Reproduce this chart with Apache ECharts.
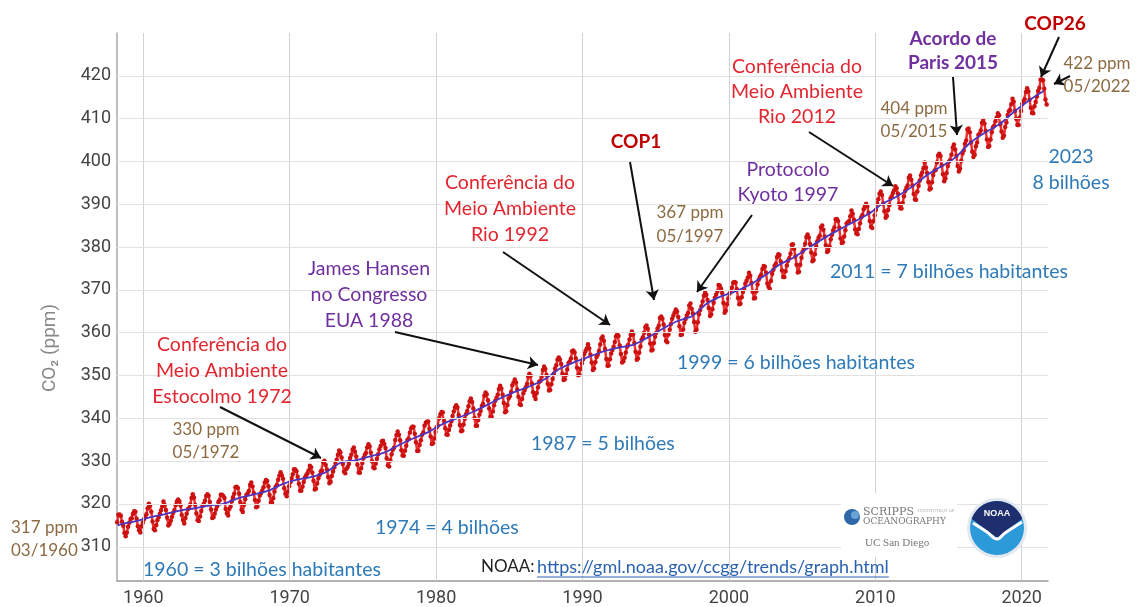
<!DOCTYPE html>
<html><head><meta charset="utf-8">
<script src="https://cdn.jsdelivr.net/npm/echarts@6/dist/echarts.min.js"></script>
<style>html,body{margin:0;padding:0;background:#fff}#c{width:1140px;height:607px}</style>
</head><body><div id="c"></div><script>
// ---------- DATA ----------
// Monthly CO2 at Mauna Loa (ppm), read/estimated from the chart
const co2_1958_59 = [ // starts March 1958
315.70,317.45,317.51,317.24,315.86,314.93,313.20,312.43,313.33,314.67,
315.58,316.49,316.65,317.72,318.29,318.15,316.54,314.80,313.84,313.33,314.81,315.58];
const co2_1960s = [
316.43,316.97,317.58,319.02,320.03,319.59,318.18,315.91,314.16,313.83,315.00,316.19,
316.89,317.70,318.54,319.48,320.58,319.77,318.57,316.79,314.99,315.31,316.10,317.01,
317.94,318.56,319.68,320.57,321.02,320.62,319.61,317.40,316.25,315.42,316.69,317.70,
318.74,319.07,319.86,321.38,322.25,321.48,319.74,317.77,316.21,315.99,317.07,318.35,
319.57,320.01,320.74,321.84,322.26,321.89,320.44,318.69,316.70,316.87,317.68,318.71,
319.44,320.44,320.89,322.13,322.16,321.87,321.39,318.80,317.81,317.30,318.87,319.42,
320.62,321.59,322.39,323.87,324.01,323.75,322.39,320.37,318.64,318.10,319.79,321.08,
322.07,322.50,323.04,324.42,325.00,324.09,322.54,320.92,319.25,319.39,320.73,321.96,
322.57,323.15,323.89,325.02,325.57,325.36,324.14,322.11,320.33,320.25,321.32,322.89,
324.00,324.42,325.63,326.66,327.38,326.71,325.88,323.66,322.38,321.78,322.86,324.12];
const co2_1970s = [
325.06,325.98,326.93,328.13,328.07,327.66,326.35,324.69,323.10,323.07,324.01,325.13,
326.17,326.68,327.17,327.79,328.93,328.57,327.36,325.43,323.36,323.56,324.80,326.01,
326.77,327.63,327.75,329.72,330.07,329.09,328.04,326.32,324.84,325.20,326.50,327.55,
328.55,329.56,330.30,331.50,332.48,332.07,330.87,329.31,327.51,327.18,328.16,328.64,
329.35,330.71,331.48,332.65,333.19,332.20,331.07,329.15,327.33,327.28,328.31,329.58,
330.73,331.46,331.90,333.17,333.94,333.45,331.97,329.95,328.50,328.34,329.37,330.58,
331.59,332.75,333.52,334.64,334.77,334.00,333.06,330.68,328.95,328.75,330.15,331.62,
332.66,333.13,334.95,336.13,336.93,336.17,334.88,332.56,331.29,331.27,332.41,333.60,
334.95,335.25,336.66,337.69,338.03,338.01,336.41,334.41,332.37,332.41,333.75,334.90,
336.14,336.69,338.27,338.95,339.21,339.26,337.54,335.75,333.98,334.19,335.31,336.81];
const co2_1980s = [
337.90,338.34,340.01,340.93,341.48,341.33,339.40,337.70,336.19,336.15,337.27,338.32,
339.29,340.55,341.61,342.53,343.03,342.54,340.78,338.44,336.95,337.08,338.58,339.88,
340.96,341.73,342.81,343.97,344.63,343.79,342.32,340.09,338.28,338.29,339.60,340.90,
341.68,342.90,343.33,345.25,346.03,345.63,344.19,342.27,340.35,340.38,341.59,343.05,
344.10,344.79,345.52,346.84,347.63,346.98,345.53,343.55,341.40,341.67,343.10,344.70,
345.21,346.16,347.74,348.34,349.06,348.38,346.72,345.02,343.27,343.13,344.49,345.88,
346.56,347.28,348.01,349.77,350.38,349.93,348.16,346.08,345.22,344.51,345.93,347.22,
348.52,348.73,349.73,351.31,352.09,351.53,350.11,348.08,346.52,346.59,347.96,349.16,
350.39,351.64,352.41,353.69,354.21,353.72,352.69,350.40,348.92,349.13,350.20,351.41,
352.91,353.27,353.96,355.64,355.86,355.37,353.99,351.81,350.05,350.25,351.49,352.85];
const co2_1990s = [
353.80,355.04,355.73,356.32,357.32,356.34,354.84,353.01,351.31,351.62,353.07,354.33,
354.84,355.73,357.23,358.66,359.13,358.13,356.19,353.85,352.25,352.35,353.81,355.12,
355.98,356.72,357.81,359.15,359.66,359.25,357.02,355.00,353.01,353.31,354.16,355.40,
356.70,357.17,358.38,359.46,360.28,359.60,357.57,355.52,353.69,353.99,355.34,356.80,
358.37,358.91,359.97,361.26,361.69,360.94,359.55,357.49,355.84,356.00,357.58,359.04,
359.97,361.00,361.64,363.45,363.79,363.26,361.90,359.46,358.06,357.75,359.56,360.70,
362.05,363.25,364.03,364.72,365.41,364.97,363.65,361.49,359.46,359.60,360.76,362.33,
363.18,364.00,364.57,366.35,366.79,365.62,364.47,362.51,360.19,360.77,362.43,364.28,
365.32,366.15,367.31,368.61,369.30,368.87,367.64,365.77,363.90,364.23,365.46,366.97,
368.15,368.87,369.59,371.14,371.00,370.35,369.27,366.94,364.63,365.12,366.67,368.01];
const co2_2000s = [
369.14,369.46,370.52,371.66,371.82,371.70,370.12,368.12,366.62,366.73,368.29,369.53,
370.28,371.50,372.12,372.87,374.02,373.30,371.62,369.55,367.96,368.09,369.68,371.24,
372.44,373.08,373.52,374.85,375.55,375.40,374.02,371.48,370.71,370.25,372.08,373.78,
374.68,375.62,376.11,377.65,378.35,378.13,376.62,374.50,372.99,373.01,374.35,375.70,
376.79,377.37,378.41,380.52,380.63,379.57,377.79,375.86,374.06,374.24,375.86,377.48,
378.98,379.69,380.79,382.33,382.95,382.21,380.74,378.74,376.70,377.00,378.35,380.11,
381.38,382.19,382.67,384.61,385.03,384.05,382.46,380.41,378.85,379.13,380.15,381.82,
382.89,383.90,384.58,386.50,386.56,386.10,384.50,381.99,380.96,381.12,382.45,383.95,
385.52,385.82,386.03,387.21,388.54,387.76,386.36,384.09,383.18,382.99,384.19,385.56,
386.94,387.48,388.82,389.55,390.14,389.48,388.03,386.11,384.74,384.43,386.02,387.42];
const co2_2010s = [
388.71,390.20,391.17,392.46,393.00,392.15,390.20,388.35,386.85,387.24,388.67,389.79,
391.33,391.86,392.60,393.25,394.19,393.74,392.51,390.13,389.08,389.00,390.28,391.86,
393.12,393.86,394.40,396.18,396.74,395.71,394.36,392.39,391.11,391.05,392.98,394.34,
395.55,396.80,397.43,398.41,399.78,398.60,397.32,395.20,393.45,393.70,395.16,396.84,
397.85,398.01,399.77,401.38,401.78,401.25,399.10,397.03,395.38,396.03,397.28,398.91,
399.98,400.28,401.54,403.28,403.96,402.80,401.31,398.93,397.63,398.29,400.16,401.85,
402.56,404.12,404.87,407.45,407.72,406.83,404.41,402.27,401.05,401.59,403.55,404.45,
406.17,406.46,407.22,409.04,409.69,408.88,407.12,405.13,403.37,403.63,405.12,406.81,
407.96,408.32,409.41,410.24,411.24,410.79,408.71,406.99,405.51,406.00,408.02,409.07,
410.83,411.75,411.97,413.33,414.66,413.92,411.77,409.95,408.54,408.53,410.27,411.76];
const co2_2020s = [
413.40,414.11,414.51,416.21,417.07,416.39,414.38,412.55,411.29,411.28,412.89,413.89,
415.15,416.47,417.16,419.07,419.13,418.94,416.96,414.47,413.30];
// start [year, month] of each monthly block
const blockStarts = [[1958,3],[1960,1],[1970,1],[1980,1],[1990,1],[2000,1],[2010,1],[2020,1]];
const blocks = [co2_1958_59,co2_1960s,co2_1970s,co2_1980s,co2_1990s,co2_2000s,co2_2010s,co2_2020s];

// deseasonalized trend (annual means, plotted mid-year)
const trendYears = [1958.25,1958.5,1959.5,1960.5,1961.5,1962.5,1963.5,1964.5,1965.5,1966.5,1967.5,1968.5,1969.5,
1970.5,1971.5,1972.5,1973.5,1974.5,1975.5,1976.5,1977.5,1978.5,1979.5,1980.5,1981.5,1982.5,1983.5,1984.5,
1985.5,1986.5,1987.5,1988.5,1989.5,1990.5,1991.5,1992.5,1993.5,1994.5,1995.5,1996.5,1997.5,1998.5,1999.5,
2000.5,2001.5,2002.5,2003.5,2004.5,2005.5,2006.5,2007.5,2008.5,2009.5,2010.5,2011.5,2012.5,2013.5,2014.5,
2015.5,2016.5,2017.5,2018.5,2019.5,2020.5,2021.5];
const trendValues = [315.0,315.3,315.98,316.91,317.64,318.45,318.99,319.62,320.04,321.37,322.18,323.05,324.62,
325.68,326.32,327.46,329.68,330.19,331.12,332.03,333.84,335.41,336.84,338.76,340.12,341.48,343.15,344.87,
346.35,347.61,349.31,351.69,353.20,354.45,355.70,356.54,357.21,358.96,360.97,362.74,363.88,366.84,368.54,
369.71,371.32,373.45,375.98,377.70,379.98,382.09,384.02,385.83,387.64,390.10,391.85,394.06,396.74,398.81,
401.01,404.41,406.76,408.72,411.66,414.24,416.45];

const xTicks = [1960,1970,1980,1990,2000,2010,2020];
const yTicks = [310,320,330,340,350,360,370,380,390,400,410,420];

// ---------- BUILD ----------
const monthly = [];
blocks.forEach((arr, b) => {
  let [yr, mo] = blockStarts[b];
  arr.forEach(v => {
    monthly.push([yr + (mo - 0.5) / 12, v]);
    mo++; if (mo > 12) { mo = 1; yr++; }
  });
});
const trend = trendYears.map((x, i) => [x, trendValues[i]]);

const F = 'Lato, "Open Sans", sans-serif';
const RED = '#e2262f', DARKRED = '#c00000', PURPLE = '#7030a0', BROWN = '#8c6a42', BLUE = '#2e7ab8';

function txt(text, x, y, color, size, opts) {
  opts = opts || {};
  return { type: 'text', x: x, y: y, z: 100,
    style: { text: text, fill: color, font: (opts.bold ? 'bold ' : '') + size + 'px ' + F,
      align: opts.align || 'center', verticalAlign: 'middle', lineHeight: opts.lh || 26 } };
}

// measure link width for the underline
const cv = document.createElement('canvas').getContext('2d');
const linkFont = '18px ' + F;
cv.font = linkFont;
const linkText = 'https://gml.noaa.gov/ccgg/trends/graph.html';
const linkX = 537, linkW = cv.measureText(linkText).width;

// NOAA logo navy top shape
const ncx = 997, ncy = 528, nr = 27;
const navy = [];
for (let a = 160; a >= 20; a -= 10) {
  const t = a * Math.PI / 180;
  navy.push([ncx + nr * Math.cos(t), ncy - nr * Math.sin(t)]);
}
navy.push([ncx + 10, ncy + 2]);
navy.push([ncx, ncy + 10]);
navy.push([ncx - 12, ncy + 1]);

const graphics = [
  // y-axis name
  { type: 'text', x: 50, y: 348, rotation: Math.PI / 2, z: 100,
    style: { text: 'CO₂ (ppm)', fill: '#888', font: '19px Roboto, sans-serif', align: 'center', verticalAlign: 'middle' } },
  txt('317 ppm\n03/1960', 11, 539, BROWN, 17, { align: 'left', lh: 23 }),
  txt('330 ppm\n05/1972', 206, 441, BROWN, 17, { lh: 23 }),
  txt('Conferência do\nMeio Ambiente\nEstocolmo 1972', 222, 371, RED, 19.5),
  txt('James Hansen\nno Congresso\nEUA 1988', 369, 295, PURPLE, 19.5),
  txt('Conferência do\nMeio Ambiente\nRio 1992', 510, 209, RED, 19.5),
  txt('COP1', 636, 142, DARKRED, 19, { bold: true }),
  txt('367 ppm\n05/1997', 690, 225, BROWN, 17, { lh: 24 }),
  txt('Protocolo\nKyoto 1997', 788, 182, PURPLE, 19.5, { lh: 25 }),
  txt('Conferência do\nMeio Ambiente\nRio 2012', 797, 92, RED, 19.5, { lh: 25 }),
  txt('Acordo de\nParis 2015', 953, 51, PURPLE, 19, { bold: true, lh: 24 }),
  txt('404 ppm\n05/2015', 914, 120, BROWN, 17, { lh: 23 }),
  txt('COP26', 1055, 24, DARKRED, 19, { bold: true }),
  txt('422 ppm\n05/2022', 1097, 75, BROWN, 17, { lh: 23 }),
  txt('2023\n8 bilhões', 1071, 170, BLUE, 19.5, { lh: 26 }),
  txt('2011 = 7 bilhões habitantes', 830, 272, BLUE, 19.5, { align: 'left' }),
  txt('1999 = 6 bilhões habitantes', 677, 363, BLUE, 19.5, { align: 'left' }),
  txt('1987 = 5 bilhões', 531, 444, BLUE, 19.5, { align: 'left' }),
  txt('1974 = 4 bilhões', 375, 528, BLUE, 19.5, { align: 'left' }),
  txt('1960 = 3 bilhões habitantes', 143, 570, BLUE, 19.5, { align: 'left' }),
  txt('NOAA:', 481, 567, '#222', 17, { align: 'left' }),
  txt(linkText, linkX, 567, '#2a62b0', 18, { align: 'left' }),
  { type: 'line', z: 100, shape: { x1: linkX, y1: 577, x2: linkX + linkW, y2: 577 }, style: { stroke: '#2a62b0', lineWidth: 1 } },
  // logos
  { type: 'rect', z: 90, shape: { x: 841, y: 493, width: 116, height: 64 }, style: { fill: '#fff' } },
  { type: 'circle', z: 95, shape: { cx: 852, cy: 517, r: 8 }, style: { fill: '#2d68a8' } },
  { type: 'circle', z: 96, shape: { cx: 855, cy: 515, r: 4 }, style: { fill: '#6aa3d8' } },
  { type: 'text', z: 96, x: 863, y: 512, style: { text: 'SCRIPPS', fill: '#777', font: '11px "DejaVu Serif", serif', verticalAlign: 'middle' } },
  { type: 'text', z: 96, x: 918, y: 511, style: { text: 'INSTITUTION OF', fill: '#aaa', font: '4px "DejaVu Serif", serif', verticalAlign: 'middle' } },
  { type: 'text', z: 96, x: 863, y: 522, style: { text: 'OCEANOGRAPHY', fill: '#777', font: '9px "DejaVu Serif", serif', verticalAlign: 'middle' } },
  { type: 'text', z: 96, x: 865, y: 543, style: { text: 'UC San Diego', fill: '#777', font: '11px "Liberation Serif", serif', verticalAlign: 'middle' } },
  { type: 'circle', z: 95, shape: { cx: ncx, cy: ncy, r: nr + 3 }, style: { fill: '#e3e8f0' } },
  { type: 'circle', z: 96, shape: { cx: ncx, cy: ncy, r: nr }, style: { fill: '#2c9ad8' } },
  { type: 'polygon', z: 97, shape: { points: navy }, style: { fill: '#1f2f6e' } },
  { type: 'polyline', z: 98, shape: { points: [[ncx - 24, ncy - 5], [ncx - 10, ncy + 4], [ncx, ncy + 11], [ncx + 8, ncy + 5], [ncx + 25, ncy - 6]], smooth: 0.4 }, style: { stroke: '#fff', lineWidth: 3, fill: 'none' } },
  { type: 'text', z: 98, x: ncx, y: ncy - 14, style: { text: 'NOAA', fill: '#fff', font: 'bold 9px sans-serif', align: 'center', verticalAlign: 'middle' } }
];

const arrows = [
  [[220,407],[321,458]],
  [[395,332],[538,365]],
  [[503,252],[610,325]],
  [[630,162],[654,300]],
  [[752,215],[697,292]],
  [[809,132],[893,186]],
  [[953,77],[957,135]],
  [[1059,37],[1041,77]],
  [[1070,76],[1054,84]]
];

const chart = echarts.init(document.getElementById('c'), null, { renderer: 'canvas' });
chart.setOption({
  animation: false,
  backgroundColor: '#fff',
  grid: { left: 117, right: 92, top: 33, bottom: 25, containLabel: false },
  xAxis: {
    type: 'value', min: 1958.2, max: 2021.8,
    axisLine: { show: true, lineStyle: { color: '#999', width: 1.5 } },
    axisTick: { show: false },
    splitLine: { show: false },
    axisLabel: { customValues: xTicks, color: '#444', fontSize: 18, fontFamily: 'Roboto', margin: 8, formatter: v => String(Math.round(v)) }
  },
  yAxis: {
    type: 'value', min: 302, max: 430,
    axisLine: { show: true, lineStyle: { color: '#aaa', width: 1.5 } },
    axisTick: { show: false },
    splitLine: { show: false },
    axisLabel: { customValues: yTicks, color: '#444', fontSize: 18, fontFamily: 'Roboto', margin: 6, formatter: v => String(Math.round(v)) }
  },
  graphic: graphics,
  series: [
    { type: 'line', data: [], z: 1, silent: true,
      markLine: { silent: true, symbol: 'none', label: { show: false }, animation: false,
        data: xTicks.map(v => ({ xAxis: v, lineStyle: { color: '#d2d2d2', width: 1, type: 'solid' } }))
          .concat(yTicks.map(v => ({ yAxis: v, lineStyle: { color: '#e2e2e2', width: 1, type: 'solid' } }))) } },
    { type: 'line', name: 'mensal', data: monthly, z: 3, showSymbol: true, showAllSymbol: true,
      symbol: 'circle', symbolSize: 4.5, itemStyle: { color: '#cc1111' },
      lineStyle: { color: '#ee3030', width: 2.5 } },
    { type: 'line', name: 'tendência', data: trend, z: 4, showSymbol: false, smooth: 0.3,
      lineStyle: { color: '#4b34c0', width: 1.8 } },
    { type: 'line', data: [], z: 20, silent: true,
      markLine: { silent: true, symbol: ['none', 'arrow'], symbolSize: 10, label: { show: false }, animation: false,
        lineStyle: { color: '#111', width: 2, type: 'solid' },
        data: arrows.map(a => [{ x: a[0][0], y: a[0][1] }, { x: a[1][0], y: a[1][1] }]) } }
  ]
});
</script></body></html>
